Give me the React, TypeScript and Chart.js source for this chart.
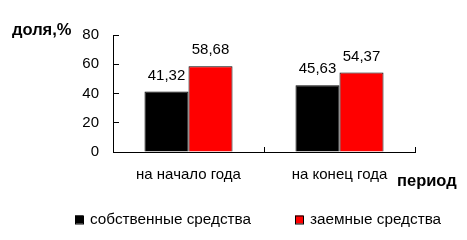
import React, { useEffect, useRef } from "react";
import { Chart, registerables } from "chart.js";

Chart.register(...registerables);

const categories = ["на начало года", "на конец года"];
const ownFunds = [41.32, 45.63];
const borrowedFunds = [58.68, 54.37];
const seriesNames = ["собственные средства", "заемные средства"];
const seriesColors = ["#000000", "#ff0000"];
const yMin = 0;
const yMax = 80;
const yStep = 20;
const yAxisTitle = "доля,%";
const xAxisTitle = "период";

const FONT = "'Liberation Sans', Arial, sans-serif";

const fmt = (v: number) => v.toFixed(2).replace(".", ",");

const textPlugin = {
  id: "texts",
  afterDatasetsDraw(chart: any) {
    const ctx = chart.ctx;
    ctx.save();
    ctx.fillStyle = "#000";
    ctx.font = `15px ${FONT}`;
    ctx.textAlign = "center";
    ctx.textBaseline = "middle";
    chart.data.datasets.forEach((ds: any, di: number) => {
      const meta = chart.getDatasetMeta(di);
      meta.data.forEach((bar: any, i: number) => {
        ctx.fillText(fmt(ds.data[i]), bar.x, bar.y - 16);
      });
    });
    // axis titles
    ctx.font = `bold 16.5px ${FONT}`;
    ctx.textAlign = "left";
    ctx.fillText(yAxisTitle, 12, 30);
    ctx.fillText(xAxisTitle, 397, 181);
    // legend
    const legendX = [75, 295];
    const legendY = 219.5;
    ctx.font = `15.3px ${FONT}`;
    chart.data.datasets.forEach((ds: any, di: number) => {
      const x = legendX[di];
      ctx.fillStyle = ds.backgroundColor;
      ctx.fillRect(x, legendY - 4, 8, 8);
      ctx.strokeStyle = "#000";
      ctx.lineWidth = 1;
      ctx.strokeRect(x + 0.5, legendY - 3.5, 8, 8);
      ctx.fillStyle = "#000";
      ctx.fillText(ds.label, x + 15, legendY);
    });
    ctx.restore();
  },
};

export default function App() {
  const ref = useRef<HTMLCanvasElement>(null);
  useEffect(() => {
    if (!ref.current) return;
    Chart.defaults.font.family = FONT;
    Chart.defaults.font.size = 15;
    Chart.defaults.color = "#000";
    const chart = new Chart(ref.current, {
      type: "bar",
      data: {
        labels: categories,
        datasets: [
          {
            label: seriesNames[0],
            data: ownFunds,
            backgroundColor: seriesColors[0],
            borderColor: "#000000",
            borderWidth: 1,
            categoryPercentage: 0.583,
            barPercentage: 1,
          },
          {
            label: seriesNames[1],
            data: borrowedFunds,
            backgroundColor: seriesColors[1],
            borderColor: "#000000",
            borderWidth: 1,
            categoryPercentage: 0.583,
            barPercentage: 1,
          },
        ],
      },
      options: {
        responsive: false,
        animation: false,
        layout: { padding: { top: 35, left: 0, right: 52, bottom: 48 } },
        plugins: {
          tooltip: { enabled: false },
          legend: { display: false },
        },
        scales: {
          x: {
            grid: {
              drawOnChartArea: false,
              drawTicks: true,
              tickLength: -5,
              color: "#000",
            },
            border: { color: "#000", width: 1 },
            ticks: { padding: 19, color: "#000", font: { size: 15 } },
            afterFit(s: any) {
              s.height = 40;
            },
          },
          y: {
            min: yMin,
            max: yMax,
            grid: {
              drawOnChartArea: false,
              drawTicks: true,
              tickLength: -6,
              color: "#000",
            },
            border: { color: "#000", width: 1 },
            ticks: { stepSize: yStep, padding: 20, color: "#000", font: { size: 15 } },
            afterFit(s: any) {
              s.width = 113;
            },
          },
        },
      },
      plugins: [textPlugin],
    });
    return () => chart.destroy();
  }, []);
  return (
    <div style={{ position: "absolute", left: 0, top: 0, width: 467, height: 240, background: "#fff" }}>
      <canvas ref={ref} width={467} height={240} />
    </div>
  );
}
